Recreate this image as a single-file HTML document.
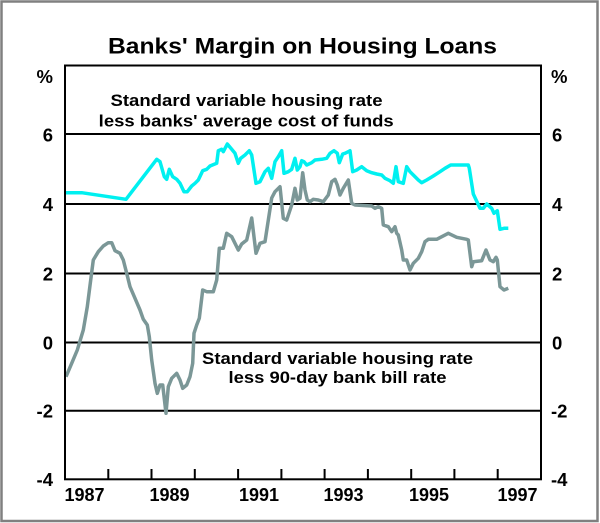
<!DOCTYPE html>
<html>
<head>
<meta charset="utf-8">
<style>
  html, body { margin: 0; padding: 0; background: #ffffff; }
  svg { display: block; }
  text { font-family: "Liberation Sans", Arial, sans-serif; font-weight: bold; fill: #000; }
</style>
</head>
<body>
<svg width="600" height="523" viewBox="0 0 600 523" xmlns="http://www.w3.org/2000/svg">
  <rect x="0" y="0" width="600" height="523" fill="#ffffff"/>
  <rect x="1.5" y="1.5" width="596" height="519.5" fill="none" stroke="#808080" stroke-width="2.5"/>

  <!-- Title -->
  <text x="108" y="53.3" font-size="22" textLength="389" lengthAdjust="spacingAndGlyphs">Banks' Margin on Housing Loans</text>

  <!-- Gridlines -->
  <g stroke="#000" stroke-width="2">
    <line x1="65" y1="134" x2="541" y2="134"/>
    <line x1="65" y1="204" x2="541" y2="204"/>
    <line x1="65" y1="273.5" x2="541" y2="273.5"/>
    <line x1="65" y1="342.5" x2="541" y2="342.5"/>
    <line x1="65" y1="410.7" x2="541" y2="410.7"/>
  </g>

  <!-- Ticks -->
  <g stroke="#000" stroke-width="2">
    <line x1="108.3" y1="469" x2="108.3" y2="479"/>
    <line x1="151.5" y1="469" x2="151.5" y2="479"/>
    <line x1="194.8" y1="469" x2="194.8" y2="479"/>
    <line x1="238.1" y1="469" x2="238.1" y2="479"/>
    <line x1="281.4" y1="469" x2="281.4" y2="479"/>
    <line x1="324.6" y1="469" x2="324.6" y2="479"/>
    <line x1="367.9" y1="469" x2="367.9" y2="479"/>
    <line x1="411.2" y1="469" x2="411.2" y2="479"/>
    <line x1="454.4" y1="469" x2="454.4" y2="479"/>
    <line x1="497.7" y1="469" x2="497.7" y2="479"/>
  </g>

  <!-- Gray series -->
  <polyline fill="none" stroke="#7b9797" stroke-width="3.5" stroke-linejoin="round" points="66,376.7 71.7,363.3 77.3,350 83.3,330 87.3,306.7 90.7,280 93.3,260 98.3,251.7 103.3,246 108.3,242.7 111.7,242.7 115,250.7 120,253.3 123.3,260 126.7,273.3 130,286.7 135,298.3 140,310 143.3,319.3 147.3,325 149.3,336.7 151.7,360 155,383.3 157.3,393.3 160,385 162.7,385 166,413.3 168.3,386.7 171.7,378.3 176.7,373.3 180,380 182.7,388.3 186.7,385 190,376.7 192.7,363.3 194,333.3 196.7,325 199.3,318.3 202.7,290 206.7,291.7 213.3,291.7 216.7,280 219.3,248.3 223.3,248.3 226.7,233.3 231.7,236.7 235,243.3 238.3,250 241.7,244 246.7,240 251.7,218 256,253.3 260,243.3 265,241.7 271.7,198 275,191.7 280,186.7 283.3,218.3 286.7,220 291.7,205 295,188.3 297.3,200 300,198.3 302.7,172.7 305,190 307.3,200 310,201.7 313.3,199.3 318.3,200 323.3,201.7 328.3,195 331.7,181.7 335,179.3 337.3,185 340,195 343.3,188.3 348.3,180 351.7,203.3 355,205 371.7,206 375,208.3 378.3,206.7 381.7,208.3 383.3,225 388.3,226.7 391.7,231.7 395,226.7 396.7,233.3 398.3,235 401.7,250 403.3,260 406.7,260 410,270 413.3,263.3 418.3,258.3 421.7,251.7 425,241.7 428.3,239.3 436.7,239.3 448.3,233.3 456.7,237.3 466.7,239.3 468.3,240 471.7,266.7 473.3,261.7 481.7,260.7 486,250 490,260 493.3,261.7 496,257.3 497.3,260 500,286.7 504,290 508.3,288.3"/>

  <!-- Cyan series -->
  <polyline fill="none" stroke="#00f0f0" stroke-width="3.5" stroke-linejoin="round" points="66,192.7 81.7,192.7 126,199.3 156.7,159.3 160,161.7 164.3,176.7 166.7,179.3 169.3,169.3 172.7,176.7 176.7,179.3 180,183.3 184,191.7 187.3,191.7 191.7,186 195,183.3 198.3,180 202.7,170.7 206.7,169.3 210,166 216.7,163.3 218.3,150.7 221.7,149.3 223.3,151.7 227.3,144 231.7,149.3 235,153.3 238.3,163.3 240.7,158.3 245,155 249.3,150.7 251.7,155 256,183.3 260,181.7 265,171.7 268.3,168.3 271.7,178.3 275,161.7 278.3,156.7 281.7,150.7 284,173.3 288.3,171.7 291.7,169.3 295,158.3 297.3,170 300,166.7 301.7,160.7 304,161.7 306.7,165 311.7,162.7 315,160 321.7,159.3 326.7,158.3 330,153.3 334,150.7 337.3,153.3 339.3,162.7 342.7,154 345,153.3 348.3,151.7 350,150.7 352.7,171.7 356.7,170 361.7,166.7 366.7,170.7 371.7,172.7 376.7,174 381.7,175 385,178.3 390,180.7 393.3,183.3 396,166.7 398.3,181.7 403.3,183.3 406.7,166.7 410,171.7 413.3,175 418.3,180 421.7,182.7 426.7,180 433.3,176 440,171.7 445,168.3 450.7,165 468.3,165 469.3,168.3 473.3,194 480,208.3 483.3,208.3 486.7,204 491.7,208.3 494,213.3 497.3,210.7 500,229.3 504,228.3 508.3,228.3"/>

  <!-- Plot frame -->
  <rect x="65" y="65.5" width="476" height="413.8" fill="none" stroke="#000" stroke-width="2"/>

  <!-- Annotations -->
  <text x="110.5" y="106" font-size="16.5" textLength="272" lengthAdjust="spacingAndGlyphs">Standard variable housing rate</text>
  <text x="98.7" y="126.5" font-size="16.5" textLength="295" lengthAdjust="spacingAndGlyphs">less banks' average cost of funds</text>
  <text x="202" y="364" font-size="16.5" textLength="271" lengthAdjust="spacingAndGlyphs">Standard variable housing rate</text>
  <text x="228.5" y="383" font-size="16.5" textLength="218" lengthAdjust="spacingAndGlyphs">less 90-day bank bill rate</text>

  <!-- Left axis labels -->
  <g font-size="18.5" text-anchor="end">
    <text x="53" y="83">%</text>
    <text x="53" y="141.5">6</text>
    <text x="53" y="211">4</text>
    <text x="53" y="280.5">2</text>
    <text x="53" y="349.5">0</text>
    <text x="53" y="417.5">-2</text>
    <text x="53" y="486">-4</text>
  </g>
  <!-- Right axis labels -->
  <g font-size="18.5" text-anchor="start">
    <text x="551" y="83">%</text>
    <text x="552" y="141.5">6</text>
    <text x="552" y="211">4</text>
    <text x="552" y="280.5">2</text>
    <text x="552" y="349.5">0</text>
    <text x="551" y="417.5">-2</text>
    <text x="551" y="486">-4</text>
  </g>

  <!-- Year labels -->
  <g font-size="18" text-anchor="middle">
    <text x="84.5" y="501">1987</text>
    <text x="169.5" y="501">1989</text>
    <text x="259" y="501">1991</text>
    <text x="343.5" y="501">1993</text>
    <text x="429" y="501">1995</text>
    <text x="517.5" y="501">1997</text>
  </g>
</svg>
</body>
</html>
